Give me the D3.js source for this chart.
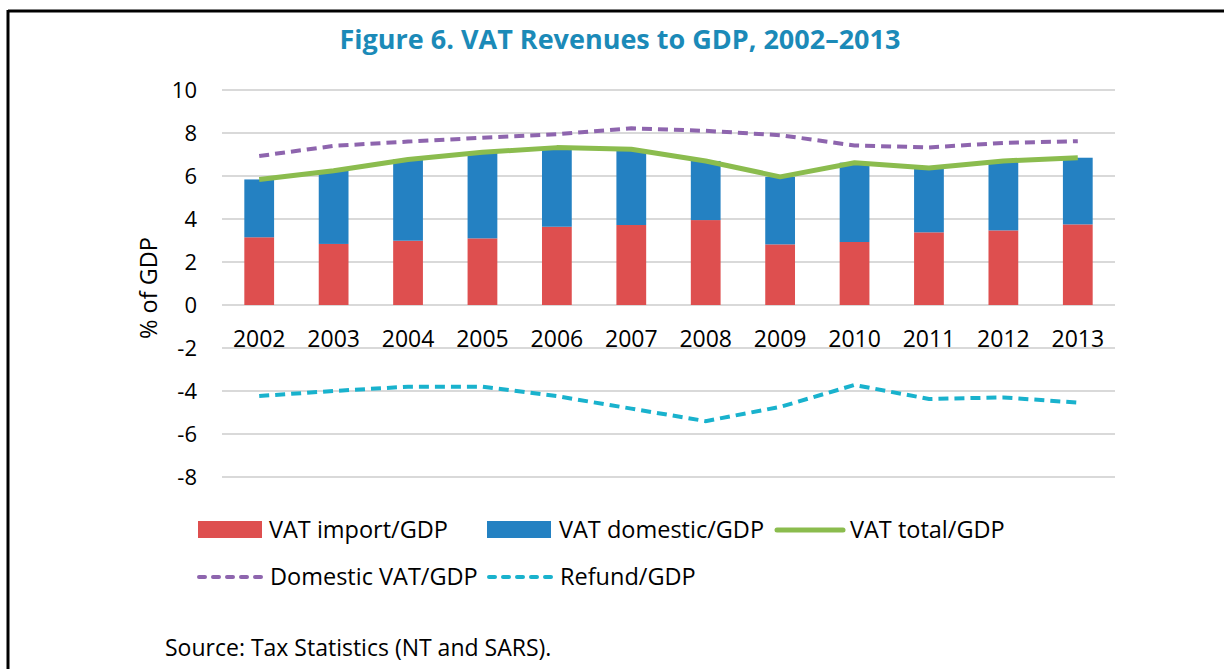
<!DOCTYPE html>
<html>
<head>
<meta charset="utf-8">
<script src="https://cdn.jsdelivr.net/npm/d3@7"></script>
<style>
  html, body { margin: 0; padding: 0; background: #fff; }
  svg { display: block; }
  text { font-family: "Open Sans", "Noto Sans", sans-serif; fill: #000; }
</style>
</head>
<body>
<svg id="chart" width="1224" height="669"></svg>
<script>
const years = ["2002","2003","2004","2005","2006","2007","2008","2009","2010","2011","2012","2013"];
const vatImport = [3.15, 2.84, 2.99, 3.10, 3.64, 3.72, 3.95, 2.82, 2.93, 3.38, 3.47, 3.75];
const vatTotal = [5.84, 6.24, 6.77, 7.10, 7.32, 7.24, 6.70, 5.96, 6.62, 6.37, 6.70, 6.85];
const vatDomestic = vatTotal.map((t, i) => +(t - vatImport[i]).toFixed(2));
const domesticVat = [6.93, 7.40, 7.60, 7.78, 7.94, 8.22, 8.10, 7.90, 7.42, 7.33, 7.54, 7.62];
const refund = [-4.23, -4.00, -3.80, -3.80, -4.24, -4.82, -5.40, -4.74, -3.72, -4.37, -4.30, -4.54];
const yTicks = [10, 8, 6, 4, 2, 0, -2, -4, -6, -8];

const colors = {
  imp: "#DE4F4F", dom: "#2481C2", total: "#8BBC4E", domVat: "#8E65AE", refund: "#19B2CD",
  title: "#1B8AB8", grid: "#D9D9D9"
};
const FONT = '"Open Sans", "Noto Sans", sans-serif';

const svg = d3.select("#chart");

// frame
svg.append("line").attr("x1", 8).attr("x2", 1224).attr("y1", 11).attr("y2", 11)
  .attr("stroke", "#000").attr("stroke-width", 3);
svg.append("line").attr("x1", 8).attr("x2", 8).attr("y1", 10).attr("y2", 669)
  .attr("stroke", "#000").attr("stroke-width", 3);

// title
svg.append("text").attr("x", 620).attr("y", 49).attr("text-anchor", "middle")
  .style("font-size", "27px").style("font-weight", "bold").style("fill", colors.title)
  .text("Figure 6. VAT Revenues to GDP, 2002\u20132013");

const x = d3.scaleBand().domain(years).range([222, 1115]).paddingInner(0.6).paddingOuter(0.3);
const y = d3.scaleLinear().domain([-8, 10]).range([477, 90]);
const xc = d => x(d) + x.bandwidth() / 2;

// gridlines
svg.append("g").selectAll("line").data(yTicks).join("line")
  .attr("x1", 222).attr("x2", 1115)
  .attr("y1", d => y(d)).attr("y2", d => y(d))
  .attr("stroke", colors.grid).attr("stroke-width", 2);

// y axis labels
const yAxis = d3.axisLeft(y).tickValues(yTicks).tickSize(0).tickPadding(0).tickFormat(d => String(d));
const ya = svg.append("g").attr("transform", "translate(197,0)").call(yAxis);
ya.select(".domain").remove();
ya.selectAll("text").style("font-size", "22px").style("font-family", FONT).attr("fill", "#000");

// bars
svg.append("g").selectAll("rect").data(years).join("rect")
  .attr("x", d => x(d)).attr("width", x.bandwidth())
  .attr("y", (d, i) => y(vatImport[i])).attr("height", (d, i) => y(0) - y(vatImport[i]))
  .attr("fill", colors.imp);
svg.append("g").selectAll("rect").data(years).join("rect")
  .attr("x", d => x(d)).attr("width", x.bandwidth())
  .attr("y", (d, i) => y(vatImport[i] + vatDomestic[i])).attr("height", (d, i) => y(vatImport[i]) - y(vatImport[i] + vatDomestic[i]))
  .attr("fill", colors.dom);

// x axis labels
const xAxis = d3.axisBottom(x).tickSize(0).tickPadding(0);
const xa = svg.append("g").attr("transform", "translate(0,331)").call(xAxis);
xa.select(".domain").remove();
xa.selectAll("text").style("font-size", "23px").style("font-family", FONT).attr("fill", "#000");

// lines
const line = d3.line().x((d, i) => xc(years[i])).y(d => y(d));
svg.append("path").datum(domesticVat).attr("d", line).attr("fill", "none")
  .attr("stroke", colors.domVat).attr("stroke-width", 4).attr("stroke-dasharray", "10,6");
svg.append("path").datum(vatTotal).attr("d", line).attr("fill", "none")
  .attr("stroke", colors.total).attr("stroke-width", 5).attr("stroke-linejoin", "round");
svg.append("path").datum(refund).attr("d", line).attr("fill", "none")
  .attr("stroke", colors.refund).attr("stroke-width", 4).attr("stroke-dasharray", "10,6");

// y label
svg.append("text").attr("transform", "translate(157,288) rotate(-90)").attr("text-anchor", "middle")
  .style("font-size", "23.5px").text("% of GDP");

// legend
const legend = svg.append("g");
const lg = [
  {label: "VAT import/GDP", type: "rect", color: colors.imp, x: 198, y: 530, tx: 269},
  {label: "VAT domestic/GDP", type: "rect", color: colors.dom, x: 487, y: 530, tx: 559},
  {label: "VAT total/GDP", type: "line", color: colors.total, x: 777, y: 530, tx: 850},
  {label: "Domestic VAT/GDP", type: "dash", color: colors.domVat, x: 197, y: 577, tx: 270},
  {label: "Refund/GDP", type: "dash", color: colors.refund, x: 487, y: 577, tx: 560}
];
lg.forEach(d => {
  if (d.type === "rect") {
    legend.append("rect").attr("x", d.x).attr("y", d.y - 9).attr("width", 64).attr("height", 17).attr("fill", d.color);
  } else if (d.type === "line") {
    legend.append("line").attr("x1", d.x).attr("x2", d.x + 66).attr("y1", d.y).attr("y2", d.y)
      .attr("stroke", d.color).attr("stroke-width", 5).attr("stroke-linecap", "round");
  } else {
    legend.append("line").attr("x1", d.x + 2).attr("x2", d.x + 66).attr("y1", d.y).attr("y2", d.y)
      .attr("stroke", d.color).attr("stroke-width", 4).attr("stroke-linecap", "round").attr("stroke-dasharray", "6,8");
  }
  legend.append("text").attr("x", d.tx).attr("y", d.y).attr("dy", "0.35em").style("font-size", "23.5px").text(d.label);
});

// source
svg.append("text").attr("x", 165).attr("y", 656).style("font-size", "23px")
  .text("Source: Tax Statistics (NT and SARS).");
</script>
</body>
</html>
